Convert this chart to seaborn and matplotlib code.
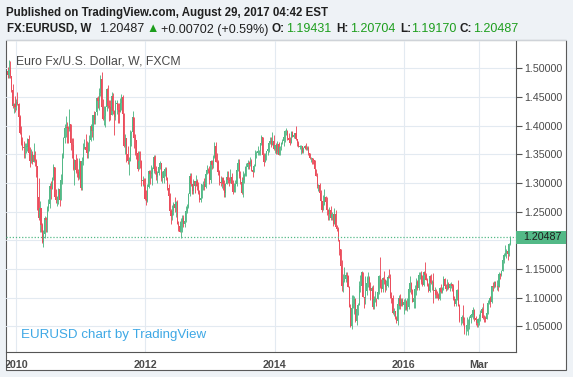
import numpy as np
import pandas as pd
import matplotlib
matplotlib.use("Agg")
import matplotlib.pyplot as plt
import matplotlib.dates as mdates
import matplotlib.transforms as mtransforms
from matplotlib.patches import Rectangle
import seaborn as sns

# EURUSD weekly candles (FXCM), week of 2009-11-16 .. week of 2017-08-28
first_open = 1.4960

close = [
    1.4877, 1.4967, 1.4860, 1.4616, 1.4342, 1.4380, 1.4325,              # 2009 nov-dec
    1.4413, 1.4381, 1.4149, 1.3865,                                      # 2010 jan
    1.3678, 1.3620, 1.3612, 1.3630,
    1.3630, 1.3770, 1.3530, 1.3390, 1.3500,
    1.3370, 1.3490, 1.3390, 1.3290,
    1.2750, 1.2390, 1.2570, 1.2270, 1.1970,
    1.2110, 1.2390, 1.2360, 1.2570,
    1.2640, 1.2940, 1.2900, 1.3090,
    1.3280, 1.2750, 1.2710, 1.2760, 1.2900,
    1.2700, 1.3050, 1.3490, 1.3790,
    1.3960, 1.3970, 1.3950, 1.3940,
    1.4030, 1.3700, 1.3670, 1.3240, 1.3400,
    1.3220, 1.3190, 1.3090, 1.3380,
    1.2910, 1.3380, 1.3610, 1.3630, 1.3580,                              # 2011 jan
    1.3530, 1.3690, 1.3750, 1.3990,
    1.3900, 1.4180, 1.4090, 1.4240,
    1.4490, 1.4430, 1.4570, 1.4810,
    1.4330, 1.4120, 1.4160, 1.4320, 1.4640,
    1.4340, 1.4320, 1.4180, 1.4520,
    1.4260, 1.4150, 1.4380, 1.4390,
    1.4280, 1.4240, 1.4400, 1.4500, 1.4210,
    1.3650, 1.3790, 1.3500, 1.3390,
    1.3390, 1.3870, 1.3890, 1.4150, 1.3790,
    1.3750, 1.3520, 1.3240, 1.3390,
    1.3380, 1.3040, 1.3060, 1.2960,
    1.2720, 1.2680, 1.2930, 1.3210, 1.3150,                              # 2012 jan
    1.3190, 1.3240, 1.3450, 1.3200,
    1.3110, 1.3180, 1.3270, 1.3340,
    1.3080, 1.3080, 1.3210, 1.3240, 1.3080,
    1.2910, 1.2780, 1.2510, 1.2430,
    1.2510, 1.2640, 1.2570, 1.2660,
    1.2290, 1.2250, 1.2150, 1.2320, 1.2390,
    1.2290, 1.2330, 1.2510, 1.2580,
    1.2810, 1.3130, 1.2980, 1.2860,
    1.3030, 1.2950, 1.3030, 1.2940, 1.2830,
    1.2710, 1.2740, 1.2980, 1.2990,
    1.2930, 1.3160, 1.3220, 1.3210, 1.3060,
    1.3380, 1.3320, 1.3450, 1.3640,                                      # 2013 jan
    1.3370, 1.3360, 1.3190, 1.3020,
    1.3000, 1.3080, 1.2990, 1.2820,
    1.2990, 1.3110, 1.3050, 1.3030, 1.3110,
    1.2990, 1.2840, 1.2940, 1.2990,
    1.3220, 1.3350, 1.3120, 1.3010,
    1.2830, 1.3060, 1.3140, 1.3280, 1.3280,
    1.3340, 1.3330, 1.3380, 1.3220,
    1.3190, 1.3290, 1.3520, 1.3520, 1.3550,
    1.3550, 1.3690, 1.3800, 1.3490,
    1.3360, 1.3500, 1.3560, 1.3590,
    1.3700, 1.3740, 1.3670, 1.3730, 1.3590,
    1.3670, 1.3540, 1.3680, 1.3490,                                      # 2014 jan
    1.3630, 1.3700, 1.3740, 1.3800,
    1.3910, 1.3910, 1.3790, 1.3750, 1.3700,
    1.3890, 1.3810, 1.3830, 1.3870,
    1.3760, 1.3700, 1.3630, 1.3630,
    1.3640, 1.3540, 1.3610, 1.3650, 1.3590,
    1.3610, 1.3520, 1.3430, 1.3430,
    1.3410, 1.3400, 1.3240, 1.3130,
    1.2950, 1.2960, 1.2830, 1.2690, 1.2520,
    1.2630, 1.2760, 1.2670, 1.2520,
    1.2450, 1.2530, 1.2390, 1.2450,
    1.2290, 1.2460, 1.2230, 1.2190, 1.2000,
    1.1840, 1.1560, 1.1200, 1.1290,                                      # 2015 jan
    1.1320, 1.1390, 1.1380, 1.1190,
    1.0840, 1.0500, 1.0820, 1.0890, 1.0970,
    1.0600, 1.0800, 1.0870, 1.1200,
    1.1200, 1.1450, 1.1010, 1.0990,
    1.1110, 1.1260, 1.1350, 1.1160, 1.1110,
    1.1160, 1.0830, 1.0980, 1.0980,
    1.0970, 1.1100, 1.1380, 1.1180, 1.1150,
    1.1340, 1.1300, 1.1190, 1.1210,
    1.1360, 1.1350, 1.1020, 1.1000,
    1.0740, 1.0770, 1.0650, 1.0590, 1.0880,
    1.0990, 1.0860, 1.0960, 1.0870,
    1.0920, 1.0920, 1.0800, 1.0830,                                      # 2016 jan
    1.1150, 1.1260, 1.1130, 1.0930, 1.1000,
    1.1150, 1.1270, 1.1170, 1.1390,
    1.1400, 1.1280, 1.1220, 1.1450,
    1.1400, 1.1310, 1.1220, 1.1110, 1.1370,
    1.1250, 1.1280, 1.1120, 1.1140,
    1.1050, 1.1040, 1.0980, 1.1170,
    1.1090, 1.1160, 1.1320, 1.1200, 1.1150,
    1.1230, 1.1160, 1.1230, 1.1240,
    1.1200, 1.0970, 1.0890, 1.0980, 1.1130,
    1.0860, 1.0590, 1.0590, 1.0660,
    1.0560, 1.0450, 1.0450, 1.0520,
    1.0530, 1.0640, 1.0700, 1.0700, 1.0780,                              # 2017 jan
    1.0640, 1.0610, 1.0560, 1.0620,
    1.0670, 1.0740, 1.0800, 1.0650,
    1.0640, 1.0620, 1.0730, 1.0900,
    1.0990, 1.0930, 1.1200, 1.1180, 1.1280,
    1.1200, 1.1200, 1.1190, 1.1420,
    1.1400, 1.1470, 1.1660, 1.1750, 1.1770,
    1.1820, 1.1760, 1.1943, 1.20487,
]

high = [
    1.5015, 1.5144, 1.5125, 1.4870, 1.4720, 1.4400, 1.4510,
    1.4460, 1.4580, 1.4400, 1.4180,
    1.4000, 1.3800, 1.3740, 1.3690,
    1.3690, 1.3790, 1.3840, 1.3630, 1.3590,
    1.3560, 1.3690, 1.3550, 1.3420,
    1.3290, 1.3090, 1.2680, 1.2490, 1.2310,
    1.2180, 1.2420, 1.2400, 1.2590,
    1.2720, 1.3000, 1.3030, 1.3110,
    1.3330, 1.3260, 1.2900, 1.2780, 1.2920,
    1.2820, 1.3160, 1.3530, 1.3800,
    1.4030, 1.4160, 1.4070, 1.4000,
    1.4282, 1.4020, 1.3790, 1.3790, 1.3410,
    1.3500, 1.3440, 1.3240, 1.3430,
    1.3390, 1.3450, 1.3690, 1.3760, 1.3860,
    1.3740, 1.3720, 1.3830, 1.4030,
    1.4000, 1.4190, 1.4250, 1.4240,
    1.4500, 1.4520, 1.4650, 1.4880,
    1.4940, 1.4460, 1.4340, 1.4350, 1.4650,
    1.4700, 1.4450, 1.4450, 1.4580,
    1.4570, 1.4280, 1.4450, 1.4440,
    1.4390, 1.4390, 1.4490, 1.4550, 1.4530,
    1.4220, 1.3850, 1.3780, 1.3650,
    1.3460, 1.3920, 1.3910, 1.4248, 1.4140,
    1.3850, 1.3620, 1.3560, 1.3550,
    1.3550, 1.3400, 1.3120, 1.3080,
    1.3080, 1.2880, 1.2990, 1.3230, 1.3230,
    1.3320, 1.3280, 1.3480, 1.3490,
    1.3290, 1.3210, 1.3290, 1.3380,
    1.3350, 1.3210, 1.3220, 1.3270, 1.3280,
    1.3110, 1.2980, 1.2820, 1.2550,
    1.2620, 1.2670, 1.2750, 1.2690,
    1.2700, 1.2330, 1.2340, 1.2390, 1.2440,
    1.2440, 1.2390, 1.2590, 1.2640,
    1.2820, 1.3170, 1.3170, 1.2980,
    1.3070, 1.3030, 1.3140, 1.3070, 1.3020,
    1.2880, 1.2810, 1.2990, 1.3030,
    1.3080, 1.3170, 1.3310, 1.3260, 1.3300,
    1.3400, 1.3400, 1.3480, 1.3711,
    1.3710, 1.3520, 1.3400, 1.3220,
    1.3120, 1.3110, 1.3100, 1.3050,
    1.3000, 1.3210, 1.3200, 1.3100, 1.3240,
    1.3170, 1.3050, 1.3000, 1.3060,
    1.3310, 1.3420, 1.3420, 1.3200,
    1.3110, 1.3200, 1.3180, 1.3300, 1.3340,
    1.3400, 1.3380, 1.3450, 1.3410,
    1.3230, 1.3330, 1.3570, 1.3560, 1.3640,
    1.3570, 1.3700, 1.3830, 1.3810,
    1.3530, 1.3520, 1.3560, 1.3620,
    1.3710, 1.3810, 1.3810, 1.3893, 1.3830,
    1.3670, 1.3700, 1.3740, 1.3720,
    1.3640, 1.3720, 1.3770, 1.3820,
    1.3920, 1.3967, 1.3920, 1.3880, 1.3810,
    1.3900, 1.3900, 1.3870, 1.3880,
    1.3993, 1.3770, 1.3730, 1.3670,
    1.3670, 1.3640, 1.3620, 1.3670, 1.3700,
    1.3640, 1.3650, 1.3520, 1.3450,
    1.3440, 1.3440, 1.3390, 1.3230,
    1.3180, 1.2990, 1.3000, 1.2880, 1.2690,
    1.2790, 1.2890, 1.2770, 1.2750,
    1.2540, 1.2580, 1.2600, 1.2500,
    1.2460, 1.2570, 1.2530, 1.2260, 1.2240,
    1.2010, 1.1840, 1.1650, 1.1420,
    1.1530, 1.1440, 1.1450, 1.1400,
    1.1210, 1.0880, 1.1040, 1.1050, 1.1030,
    1.1000, 1.0850, 1.0900, 1.1290,
    1.1390, 1.1467, 1.1450, 1.1010,
    1.1380, 1.1380, 1.1440, 1.1370, 1.1280,
    1.1200, 1.1220, 1.1030, 1.1120,
    1.1000, 1.1210, 1.1390, 1.1714, 1.1330,
    1.1360, 1.1460, 1.1320, 1.1310,
    1.1390, 1.1500, 1.1420, 1.1100,
    1.1050, 1.0820, 1.0710, 1.0680, 1.0980,
    1.1050, 1.1060, 1.0990, 1.0990,
    1.0970, 1.0990, 1.0960, 1.0990,
    1.1200, 1.1376, 1.1280, 1.1150, 1.1050,
    1.1220, 1.1340, 1.1300, 1.1440,
    1.1440, 1.1460, 1.1400, 1.1460,
    1.1616, 1.1430, 1.1350, 1.1250, 1.1390,
    1.1420, 1.1300, 1.1427, 1.1180,
    1.1150, 1.1120, 1.1080, 1.1180,
    1.1230, 1.1180, 1.1370, 1.1340, 1.1240,
    1.1330, 1.1280, 1.1250, 1.1280,
    1.1240, 1.1230, 1.1020, 1.1000, 1.1150,
    1.1300, 1.0880, 1.0650, 1.0690,
    1.0870, 1.0670, 1.0500, 1.0660,
    1.0620, 1.0680, 1.0720, 1.0770, 1.0830,
    1.0800, 1.0680, 1.0630, 1.0640,
    1.0710, 1.0780, 1.0830, 1.0900,
    1.0690, 1.0680, 1.0780, 1.0950,
    1.1000, 1.1020, 1.1200, 1.1270, 1.1290,
    1.1290, 1.1300, 1.1210, 1.1450,
    1.1430, 1.1490, 1.1680, 1.1780, 1.1910,
    1.1850, 1.1850, 1.1960, 1.20704,
]

low = [
    1.4830, 1.4830, 1.4830, 1.4590, 1.4300, 1.4220, 1.4240,
    1.4280, 1.4360, 1.4030, 1.3860,
    1.3660, 1.3580, 1.3440, 1.3440,
    1.3530, 1.3560, 1.3470, 1.3270, 1.3340,
    1.3330, 1.3430, 1.3300, 1.3110,
    1.2520, 1.2350, 1.2140, 1.2150, 1.1950,
    1.1876, 1.2040, 1.2150, 1.2150,
    1.2510, 1.2570, 1.2720, 1.2890,
    1.3050, 1.2730, 1.2650, 1.2590, 1.2640,
    1.2590, 1.2740, 1.2980, 1.3430,
    1.3700, 1.3800, 1.3700, 1.3700,
    1.3900, 1.3580, 1.3440, 1.3220, 1.2970,
    1.3170, 1.3110, 1.3060, 1.3070,
    1.2870, 1.2870, 1.3310, 1.3590, 1.3540,
    1.3430, 1.3440, 1.3550, 1.3740,
    1.3810, 1.3750, 1.4030, 1.4020,
    1.4180, 1.4310, 1.4270, 1.4520,
    1.4300, 1.4100, 1.4010, 1.3970, 1.4260,
    1.4300, 1.4080, 1.4090, 1.4200,
    1.4200, 1.3830, 1.4100, 1.4200,
    1.4050, 1.4050, 1.4240, 1.4280, 1.4170,
    1.3630, 1.3500, 1.3360, 1.3330,
    1.3140, 1.3400, 1.3650, 1.3830, 1.3610,
    1.3480, 1.3420, 1.3210, 1.3260,
    1.3260, 1.2950, 1.2940, 1.2860,
    1.2700, 1.2624, 1.2660, 1.2910, 1.2980,
    1.3090, 1.2970, 1.3180, 1.3150,
    1.3050, 1.3000, 1.3140, 1.3250,
    1.3030, 1.3000, 1.3000, 1.3120, 1.3050,
    1.2880, 1.2640, 1.2490, 1.2290,
    1.2350, 1.2440, 1.2490, 1.2400,
    1.2280, 1.2160, 1.2140, 1.2042, 1.2140,
    1.2240, 1.2240, 1.2320, 1.2480,
    1.2560, 1.2780, 1.2950, 1.2800,
    1.2800, 1.2830, 1.2950, 1.2880, 1.2800,
    1.2660, 1.2660, 1.2730, 1.2870,
    1.2880, 1.2920, 1.3150, 1.3170, 1.2990,
    1.3000, 1.3250, 1.3260, 1.3430,
    1.3370, 1.3300, 1.3140, 1.2970,
    1.2950, 1.2910, 1.2880, 1.2750,
    1.2750, 1.2980, 1.3000, 1.2950, 1.3000,
    1.2990, 1.2800, 1.2840, 1.2850,
    1.2940, 1.3200, 1.3080, 1.2990,
    1.2800, 1.2760, 1.3000, 1.3120, 1.3130,
    1.3240, 1.3250, 1.3300, 1.3200,
    1.3100, 1.3200, 1.3300, 1.3440, 1.3490,
    1.3490, 1.3480, 1.3670, 1.3470,
    1.3300, 1.3370, 1.3400, 1.3490,
    1.3540, 1.3680, 1.3620, 1.3660, 1.3580,
    1.3520, 1.3510, 1.3510, 1.3480,
    1.3480, 1.3580, 1.3680, 1.3640,
    1.3710, 1.3840, 1.3750, 1.3750, 1.3670,
    1.3700, 1.3800, 1.3790, 1.3780,
    1.3750, 1.3650, 1.3620, 1.3590,
    1.3500, 1.3520, 1.3520, 1.3590, 1.3580,
    1.3570, 1.3490, 1.3420, 1.3370,
    1.3330, 1.3330, 1.3210, 1.3130,
    1.2920, 1.2860, 1.2800, 1.2670, 1.2500,
    1.2570, 1.2620, 1.2610, 1.2440,
    1.2360, 1.2360, 1.2360, 1.2360,
    1.2250, 1.2290, 1.2220, 1.2160, 1.1990,
    1.1750, 1.1460, 1.1110, 1.1100,
    1.1270, 1.1270, 1.1300, 1.1180,
    1.0830, 1.0490, 1.0460, 1.0820, 1.0710,
    1.0580, 1.0520, 1.0690, 1.0870,
    1.1100, 1.1140, 1.1010, 1.0820,
    1.0880, 1.1050, 1.1190, 1.1130, 1.0950,
    1.0910, 1.0810, 1.0810, 1.0920,
    1.0850, 1.0970, 1.1060, 1.1160, 1.1090,
    1.1100, 1.1240, 1.1100, 1.1130,
    1.1180, 1.1340, 1.0990, 1.0900,
    1.0710, 1.0680, 1.0620, 1.0560, 1.0524,
    1.0800, 1.0800, 1.0860, 1.0860,
    1.0710, 1.0780, 1.0780, 1.0770,
    1.0810, 1.1100, 1.1060, 1.0920, 1.0820,
    1.0820, 1.1050, 1.1140, 1.1140,
    1.1330, 1.1240, 1.1210, 1.1210,
    1.1380, 1.1300, 1.1210, 1.1100, 1.1100,
    1.1230, 1.1130, 1.0912, 1.0990,
    1.1000, 1.1000, 1.0950, 1.0950,
    1.1080, 1.1080, 1.1140, 1.1180, 1.1120,
    1.1140, 1.1150, 1.1120, 1.1170,
    1.1110, 1.0960, 1.0860, 1.0860, 1.0960,
    1.0850, 1.0570, 1.0520, 1.0550,
    1.0520, 1.0360, 1.0350, 1.0420,
    1.0341, 1.0450, 1.0560, 1.0660, 1.0620,
    1.0590, 1.0520, 1.0490, 1.0490,
    1.0520, 1.0600, 1.0720, 1.0630,
    1.0570, 1.0570, 1.0620, 1.0720,
    1.0880, 1.0840, 1.0910, 1.1110, 1.1160,
    1.1190, 1.1130, 1.1120, 1.1180,
    1.1320, 1.1370, 1.1470, 1.1610, 1.1730,
    1.1690, 1.1660, 1.1720, 1.19170,
]

price_ticks = [1.05, 1.10, 1.15, 1.20, 1.25, 1.30, 1.35, 1.40, 1.45, 1.50]
# the 1.20000 label is hidden behind the last-price marker in the reference
price_labels = ["1.05000", "1.10000", "1.15000", "", "1.25000", "1.30000", "1.35000",
                "1.40000", "1.45000", "1.50000"]
time_ticks = ["2010-01-04", "2012-01-02", "2014-01-06", "2016-01-04", "2017-03-06"]
time_labels = ["2010", "2012", "2014", "2016", "Mar"]

UP, DOWN = "#53b987", "#eb4d5c"
BG = "#eef2f6"
W, H = 573, 377

# ---- candles
dates = pd.date_range(end="2017-08-28", periods=len(close), freq="W-MON")
c = np.array(close)
o = np.r_[first_open, c[:-1]]
h = np.maximum(np.array(high), np.maximum(o, c))
l = np.minimum(np.array(low), np.minimum(o, c))
cols = np.where(c >= o, UP, DOWN)
xd = mdates.date2num(dates)
last = c[-1]

sns.set_theme(style="white")
plt.rcParams["font.family"] = ["Liberation Sans", "DejaVu Sans"]

fig = plt.figure(figsize=(W / 100, H / 100), dpi=100, facecolor=BG)

# white chart panel (behind the axes)
panel = Rectangle((6 / W, 1 - 370 / H), 560 / W, 330 / H, transform=fig.transFigure,
                  facecolor="white", edgecolor="#5a5a5a", linewidth=0.8, zorder=-5)
fig.patches.append(panel)
fig.add_artist(plt.Line2D([6 / W, 566 / W], [1 - 40 / H, 1 - 40 / H], color="#cfd3d8",
                          lw=0.8, zorder=-4))

ax = fig.add_axes([6 / W, 1 - 351.5 / H, 510 / W, 310.5 / H])
ax.set_facecolor("none")

ax.vlines(xd, l, h, colors=cols, linewidth=0.65, zorder=3)
ax.bar(xd, np.maximum(np.abs(c - o), 0.0006), bottom=np.minimum(o, c), width=6.0,
       color=cols, linewidth=0, zorder=3)

ax.set_xlim(mdates.datestr2num("2009-11-07"), mdates.datestr2num("2017-09-30"))
ax.set_ylim(1.00602, 1.5476)

ax.set_xticks(mdates.datestr2num(time_ticks))
ax.set_xticklabels(time_labels, fontweight="bold")
ax.set_yticks(price_ticks)
ax.set_yticklabels(price_labels)
ax.yaxis.tick_right()
ax.tick_params(axis="both", length=4, width=0.8, color="#555555", labelsize=7.7,
               labelcolor="#4a4a4a", pad=2)
ax.grid(True, color="#e3eaf1", linewidth=0.8)
ax.set_axisbelow(True)
for s in ["left", "top"]:
    ax.spines[s].set_visible(False)
for s in ["right", "bottom"]:
    ax.spines[s].set_color("#555555")
    ax.spines[s].set_linewidth(0.8)
for t in ax.get_xticklabels():
    t.set_clip_path(panel)

# last price line and marker
ax.axhline(last, color=UP, linestyle=(0, (1, 1.5)), linewidth=0.9, zorder=4)
bt = mtransforms.blended_transform_factory(ax.transAxes, ax.transData)
ax.add_patch(Rectangle((1.0, last - 0.0105), 50 / 510, 0.021, transform=bt,
                       facecolor=UP, edgecolor="none", clip_on=False, zorder=10))
ax.text(1.0 + 7 / 510, last, f"{last:.5f}", transform=bt, va="center", ha="left",
        fontsize=7.7, color="#1e1e1e", clip_on=False, zorder=11)

ax.text(10 / 510, 1 - 20 / 310.5, "Euro Fx/U.S. Dollar, W, FXCM", transform=ax.transAxes,
        fontsize=8.8, color="#4a4a4a", va="center", ha="left", zorder=12)
fig.text(21 / W, 1 - 335 / H, "EURUSD chart by TradingView", fontsize=9.6,
         color="#3ea8e5", va="center", ha="left")

# header
DARK, GREEN = "#202020", "#1d9e1d"
fig.text(6.5 / W, 1 - 12.7 / H, "Published on TradingView.com, August 29, 2017 04:42 EST",
         fontsize=8.3, fontweight="bold", color=DARK, va="center")
pieces = [
    (6.7, "FX:EURUSD, W", DARK, "bold", 8.3),
    (99.3, "1.20487", DARK, "normal", 9),
    (146.7, "\u25b2", GREEN, "normal", 9),
    (161.3, "+0.00702 (+0.59%)", DARK, "normal", 9),
    (271.7, "O:", DARK, "bold", 8.5),
    (286.0, "1.19431", GREEN, "normal", 9),
    (336.0, "H:", DARK, "bold", 8.5),
    (350.0, "1.20704", GREEN, "normal", 9),
    (400.0, "L:", DARK, "bold", 8.5),
    (411.0, "1.19170", GREEN, "normal", 9),
    (460.0, "C:", DARK, "bold", 8.5),
    (472.7, "1.20487", GREEN, "normal", 9),
]
for px, txt, col, wt, fs in pieces:
    fig.text(px / W, 1 - 29.5 / H, txt, fontsize=fs, fontweight=wt, color=col, va="center",
             family=["Liberation Sans", "DejaVu Sans"])

fig.savefig("out.png", dpi=100, facecolor=BG)
